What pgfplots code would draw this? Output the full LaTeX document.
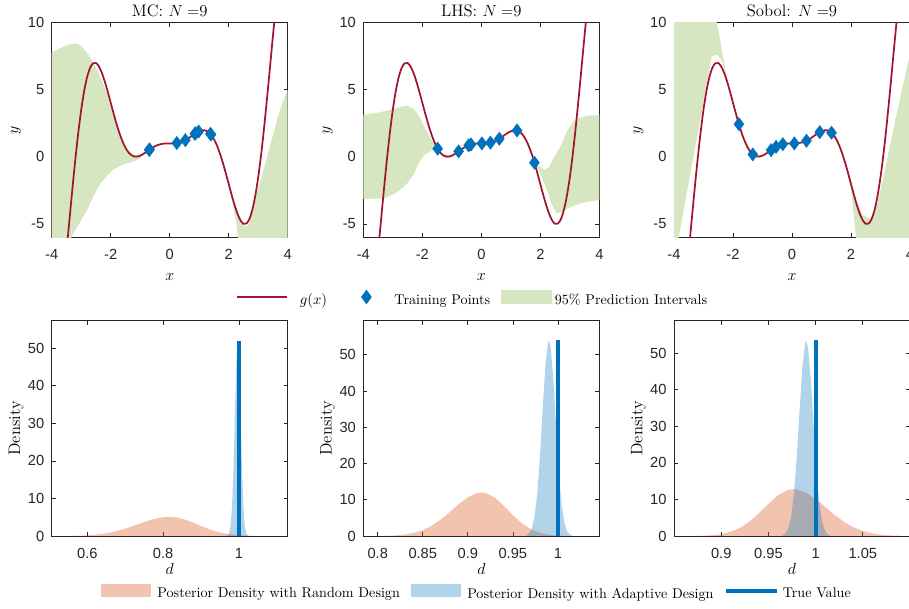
\documentclass[border=0pt]{standalone}
\usepackage{fontspec}
\newfontfamily\tickfont{Liberation Sans}
\usepackage{pgfplots}
\usepackage{pgfplotstable}
\pgfplotsset{compat=1.18}
\definecolor{gRed}{rgb}{0.635,0.078,0.184}
\definecolor{mBlue}{rgb}{0,0.447,0.741}
\definecolor{mOrange}{rgb}{0.85,0.325,0.098}
\definecolor{bandGreen}{rgb}{0.84,0.902,0.756}
\definecolor{axGray}{rgb}{0.15,0.15,0.15}

\pgfplotstableread{
x y
-3.6 -9.286
-3.5 -7.048
-3.4 -4.712
-3.3 -2.393
-3.2 -0.193
-3.1 1.798
-3.0 3.515
-2.9 4.907
-2.8 5.949
-2.7 6.633
-2.6 6.972
-2.5 6.993
-2.4 6.738
-2.3 6.257
-2.2 5.606
-2.1 4.844
-2.0 4.027
-1.9 3.209
-1.8 2.434
-1.7 1.739
-1.6 1.149
-1.5 0.682
-1.4 0.343
-1.3 0.129
-1.2 0.027
-1.1 0.022
-1.0 0.091
-0.9 0.211
-0.8 0.360
-0.7 0.517
-0.6 0.664
-0.5 0.790
-0.4 0.885
-0.3 0.949
-0.2 0.984
-0.1 0.998
0.0 1.000
0.1 1.002
0.2 1.016
0.3 1.051
0.4 1.115
0.5 1.210
0.6 1.336
0.7 1.483
0.8 1.640
0.9 1.789
1.0 1.909
1.1 1.978
1.2 1.973
1.3 1.871
1.4 1.657
1.5 1.318
1.6 0.851
1.7 0.261
1.8 -0.434
1.9 -1.209
2.0 -2.027
2.1 -2.844
2.2 -3.606
2.3 -4.257
2.4 -4.738
2.5 -4.993
2.6 -4.972
2.7 -4.633
2.8 -3.949
2.9 -2.907
3.0 -1.515
3.1 0.202
3.2 2.193
3.3 4.393
3.4 6.712
3.5 9.048
3.6 11.286
3.7 13.303
}\gtab

\pgfplotsset{
  common/.style={
    scale only axis, width=177pt, anchor=north west,
    axis line style={axGray, line width=0.5pt},
    tick style={axGray, line width=0.5pt},
    tick align=inside, major tick length=3pt,
    tick label style={font=\tickfont\fontsize{11}{13}\selectfont, text=axGray},
    /pgf/number format/assume math mode=true,
    xticklabel style={anchor=base, yshift=-16.5pt},
    yticklabel style={anchor=east, xshift=-2.1pt},
    label style={font=\fontsize{12.5}{14}\selectfont},
    ylabel style={at={(-0.151,0.5)}, anchor=center},
    title style={font=\fontsize{12.5}{14}\selectfont, at={(0.5,1)}, anchor=base, yshift=-1pt},
  },
  topstyle/.style={common, height=161pt,
    xmin=-4, xmax=4, ymin=-6, ymax=10,
    xtick={-4,-2,0,2,4}, ytick={-5,0,5,10},
    xlabel={$x$}, ylabel={$y$},
    xlabel style={at={(0.5,-0.199)}, anchor=base},
  },
  botstyle/.style={common, height=161.5pt,
    ymin=0, ytick={0,10,20,30,40,50},
    xlabel={$d$}, ylabel={Density},
    xlabel style={at={(0.5,-0.181)}, anchor=base},
  },
  legstyle/.style={legend style={draw=none, fill=none, inner sep=0pt, outer sep=0pt,
    legend columns=-1, font=\fontsize{10.6}{12}\selectfont,
    nodes={inner sep=0pt}, column sep=0pt,
    /tikz/every even column/.append style={column sep=8pt}},
    legend cell align=left},
  curve/.style={gRed, line width=1.3pt, smooth, forget plot},
  pts/.style={only marks, mark=diamond*, mark size=5pt, mBlue, mark options={fill=mBlue, draw=mBlue, line width=0.3pt}, forget plot},
  band/.style={fill=bandGreen, draw=none, forget plot},
  orf/.style={fill=mOrange, fill opacity=0.35, draw=none, forget plot},
  blf/.style={fill=mBlue, fill opacity=0.3, draw=none, forget plot},
  tv/.style={mBlue, line width=3pt, forget plot},
}

\begin{document}
\begin{tikzpicture}
% ---------------- top-left: MC
\begin{axis}[topstyle, at={(38.8pt,-17pt)}, title={MC: $N=$9}, legstyle,
  legend style={at={(0.7797,-0.2837)}, anchor=west}]
\addlegendimage{draw=gRed, line width=1.3pt, legend image code/.code={\path[draw=none, fill=none] (0pt,0pt) -- (47.5pt,0pt); \path[draw=gRed, line width=1.3pt, fill=none] (0pt,2.5pt) -- (38pt,2.5pt);}}
\addlegendentry{$g(x)$}
\addlegendimage{draw=none, fill=none, legend image code/.code={\path[draw=none, fill=none] (-21.5pt,0pt) -- (21pt,0pt); \path[fill=mBlue, draw=none] (0pt,8pt) -- (4pt,2.5pt) -- (0pt,-3pt) -- (-4pt,2.5pt) -- cycle;}}
\addlegendentry{Training Points}
\addlegendimage{draw=none, fill=none, legend image code/.code={\path[draw=none, fill=none] (0pt,0pt) -- (40.5pt,0pt); \path[fill=bandGreen, draw=none] (0pt,-2.5pt) rectangle (38pt,7.5pt);}}
\addlegendentry{95\% Prediction Intervals}
\addplot[band] coordinates {
(-4,7.76) (-3.8,8.0) (-3.6,8.2) (-3.4,8.38) (-3.2,8.45) (-3.05,8.35) (-2.9,8.0) (-2.75,7.6) (-2.6,7.05) (-2.45,6.45) (-2.3,5.7) (-2.15,4.85) (-2.0,3.75) (-1.85,2.7) (-1.7,1.65) (-1.55,0.9) (-1.4,0.4) (-1.25,0.15) (-1.1,0.08) (-0.95,0.17) (-0.8,0.37) (-0.7,0.53) (-0.5,0.8) (-0.2,0.99) (0.24,1.04) (0.53,1.26) (0.87,1.76) (0.98,1.9) (1.15,2.0) (1.4,1.67) (1.6,0.9) (1.8,-0.35) (2.0,-1.95) (2.2,-3.45) (2.4,-4.6) (2.55,-5.2) (2.67,-5.1) (2.8,-4.1) (2.95,-2.75) (3.1,-1.6) (3.3,0.0) (3.5,1.6) (3.64,2.75) (3.8,3.9) (4,5.0)
(4,-16) (2.8,-11) (2.45,-8) (2.32,-6.2) (2.25,-4.8) (2.15,-3.6) (2.0,-2.2) (1.8,-0.6) (1.6,0.75) (1.4,1.63) (1.15,1.97) (0.98,1.87) (0.87,1.73) (0.53,1.23) (0.24,1.01) (-0.2,0.97) (-0.5,0.77) (-0.7,0.5) (-0.8,0.3) (-1.0,-0.1) (-1.23,-0.36) (-1.5,-0.5) (-1.7,-0.7) (-1.91,-0.95) (-2.1,-1.35) (-2.36,-2.0) (-2.6,-3.0) (-2.81,-4.0) (-3.05,-4.9) (-3.26,-5.7) (-3.45,-6.5) (-4,-9)
} -- cycle;
\addplot[curve] table[x=x, y=y] {\gtab};
\addplot[pts] coordinates {(-0.70,0.517) (-0.68,0.548) (0.24,1.027) (0.53,1.245) (0.85,1.717) (0.88,1.761) (0.98,1.889) (1.38,1.710) (1.40,1.657)};
\end{axis}

% ---------------- top-middle: LHS
\begin{axis}[topstyle, at={(272.5pt,-17pt)}, title={LHS: $N=$9}]
\addplot[band] coordinates {
(-4,3.12) (-3.5,3.3) (-3.0,3.55) (-2.7,3.75) (-2.5,3.79) (-2.3,3.6) (-2.1,3.0) (-1.9,2.1) (-1.75,1.5) (-1.6,0.95) (-1.48,0.63) (-1.3,0.18) (-1.1,0.05) (-0.9,0.22) (-0.77,0.42) (-0.6,0.68) (-0.35,0.93) (0.02,1.01) (0.31,1.06) (0.61,1.35) (0.9,1.8) (1.21,1.97) (1.45,1.45) (1.65,0.5) (1.81,-0.42) (2.0,-0.75) (2.15,-0.98) (2.3,-0.75) (2.5,0.1) (2.71,0.9) (2.9,1.9) (3.16,2.75) (3.4,2.95) (3.61,3.07) (4,3.12)
(4,-3.22) (3.61,-3.34) (3.3,-3.5) (2.93,-3.84) (2.7,-4.15) (2.54,-4.2) (2.4,-3.6) (2.26,-2.72) (2.1,-1.8) (1.95,-1.0) (1.81,-0.44) (1.65,0.42) (1.45,1.38) (1.21,1.95) (0.9,1.74) (0.61,1.33) (0.31,1.04) (0.02,0.98) (-0.35,0.9) (-0.6,0.64) (-0.77,0.39) (-0.9,0.12) (-1.1,-0.12) (-1.3,-0.02) (-1.48,0.58) (-1.65,0.5) (-1.93,0.14) (-2.1,-0.4) (-2.27,-1.23) (-2.45,-1.8) (-2.6,-2.2) (-2.95,-2.77) (-3.29,-3.1) (-4,-3.14)
} -- cycle;
\addplot[curve] table[x=x, y=y] {\gtab};
\addplot[pts] coordinates {(-1.48,0.606) (-0.77,0.407) (-0.43,0.860) (-0.35,0.921) (0.02,1.000) (0.31,1.056) (0.61,1.349) (1.21,1.967) (1.80,-0.434)};
\end{axis}

% ---------------- top-right: Sobol
\begin{axis}[topstyle, at={(505.5pt,-17pt)}, title={Sobol: $N=$9}]
\addplot[band] coordinates {
(-4,30) (-3.0,16) (-2.7,11.5) (-2.55,10) (-2.45,8.9) (-2.35,7.6) (-2.25,6.4) (-2.15,5.3) (-2.0,4.0) (-1.8,2.45) (-1.6,1.2) (-1.33,0.22) (-1.0,0.12) (-0.71,0.52) (-0.54,0.76) (-0.31,0.96) (0.08,1.01) (0.49,1.21) (0.94,1.85) (1.15,2.0) (1.34,1.8) (1.6,0.95) (1.8,-0.3) (2.0,-1.85) (2.2,-3.35) (2.4,-4.35) (2.62,-4.6) (2.75,-4.45) (2.9,-3.4) (3.1,-1.5) (3.3,0.6) (3.5,2.7) (3.7,4.7) (3.93,7.0) (4,7.6)
(4,-30) (2.4,-10) (2.17,-6) (2.0,-2.3) (1.8,-0.55) (1.6,0.8) (1.34,1.77) (1.15,1.97) (0.94,1.83) (0.49,1.19) (0.08,0.99) (-0.31,0.93) (-0.54,0.73) (-0.71,0.48) (-1.0,0.06) (-1.33,0.16) (-1.6,1.13) (-1.8,2.42) (-2.0,3.95) (-2.15,5.25) (-2.25,6.2) (-2.35,6.95) (-2.45,7.4) (-2.55,7.6) (-2.65,7.55) (-2.72,7.47) (-3.0,4.1) (-3.28,0.7) (-3.5,-1.9) (-3.84,-6) (-4,-7.9)
} -- cycle;
\addplot[curve] table[x=x, y=y] {\gtab};
\addplot[pts] coordinates {(-1.80,2.434) (-1.33,0.180) (-0.71,0.502) (-0.54,0.743) (-0.31,0.944) (0.08,1.001) (0.49,1.199) (0.94,1.841) (1.34,1.798)};
\end{axis}

% ---------------- bottom-left
\begin{axis}[botstyle, at={(38.8pt,-240.5pt)}, xmin=0.506, xmax=1.129, ymax=57.3,
  xtick={0.6,0.8,1}, legstyle, legend style={at={(0.2076,-0.2605)}, anchor=west}]
\addlegendimage{draw=none, fill=none, legend image code/.code={\path[draw=none, fill=none] (0pt,0pt) -- (42.5pt,0pt); \path[fill=mOrange, fill opacity=0.35, draw=none] (0pt,-2.5pt) rectangle (38pt,7.5pt);}}
\addlegendentry{Posterior Density with Random Design}
\addlegendimage{draw=none, fill=none, legend image code/.code={\path[draw=none, fill=none] (0pt,0pt) -- (42.5pt,0pt); \path[fill=mBlue, fill opacity=0.3, draw=none] (0pt,-2.5pt) rectangle (38pt,7.5pt);}}
\addlegendentry{Posterior Density with Adaptive Design}
\addlegendimage{draw=mBlue, line width=3pt, legend image code/.code={\path[draw=none, fill=none] (0pt,0pt) -- (42.5pt,0pt); \path[draw=mBlue, line width=3pt, fill=none] (0pt,2.5pt) -- (38pt,2.5pt);}}
\addlegendentry{True Value}
\addplot[orf] coordinates {
(0.56,0.05) (0.58,0.10) (0.60,0.19) (0.62,0.34) (0.64,0.57) (0.66,0.91) (0.68,1.37) (0.70,1.95) (0.72,2.62) (0.74,3.35) (0.76,4.04) (0.78,4.62) (0.80,4.99) (0.818,5.10) (0.84,4.87) (0.86,4.30) (0.88,3.52) (0.90,2.67) (0.92,1.87) (0.94,1.21) (0.96,0.73) (0.98,0.41) (1.00,0.21) (1.02,0.10) (1.04,0.04)
} \closedcycle;
\addplot[blf] coordinates {
(0.970,0.11) (0.974,0.60) (0.978,2.48) (0.982,7.80) (0.986,18.75) (0.990,34.4) (0.994,48.2) (0.997,52) (1.000,48.2) (1.004,34.4) (1.008,18.75) (1.012,7.80) (1.016,2.48) (1.020,0.60) (1.024,0.11)
} \closedcycle;
\addplot[tv] coordinates {(1,0) (1,52)};
\end{axis}

% ---------------- bottom-middle
\begin{axis}[botstyle, at={(272.5pt,-240.5pt)}, xmin=0.784, xmax=1.046, ymax=59.4,
  xtick={0.8,0.85,0.9,0.95,1}]
\addplot[orf] coordinates {
(0.80,0.025) (0.81,0.07) (0.82,0.17) (0.83,0.40) (0.84,0.85) (0.85,1.62) (0.86,2.84) (0.87,4.54) (0.88,6.62) (0.89,8.80) (0.90,10.67) (0.91,11.80) (0.916,12.0) (0.92,11.88) (0.93,10.59) (0.94,8.31) (0.95,5.74) (0.96,3.49) (0.97,1.87) (0.98,0.88) (0.99,0.37) (1.00,0.13) (1.01,0.04)
} \closedcycle;
\addplot[blf] coordinates {
(0.965,0.18) (0.968,0.65) (0.971,2.0) (0.974,5.2) (0.977,11.5) (0.980,21.7) (0.983,34.5) (0.986,46.7) (0.989,53.5) (0.990,54) (0.992,52.1) (0.995,43.0) (0.998,30.1) (1.001,17.9) (1.004,9.0) (1.007,3.86) (1.010,1.40) (1.013,0.43) (1.016,0.11)
} \closedcycle;
\addplot[tv] coordinates {(1,0) (1,54)};
\end{axis}

% ---------------- bottom-right
\begin{axis}[botstyle, at={(505.5pt,-240.5pt)}, xmin=0.85, xmax=1.1, ymax=58.9,
  xtick={0.9,0.95,1,1.05}]
\addplot[orf] coordinates {
(0.87,0.025) (0.88,0.08) (0.89,0.21) (0.90,0.52) (0.91,1.14) (0.92,2.24) (0.93,3.95) (0.94,6.23) (0.95,8.79) (0.96,11.10) (0.97,12.54) (0.976,12.8) (0.98,12.72) (0.99,11.82) (1.00,10.12) (1.01,7.99) (1.02,5.81) (1.03,3.89) (1.04,2.41) (1.05,1.37) (1.06,0.72) (1.07,0.35) (1.08,0.15) (1.09,0.06)
} \closedcycle;
\addplot[blf] coordinates {
(0.965,0.18) (0.968,0.64) (0.971,1.98) (0.974,5.15) (0.977,11.4) (0.980,21.5) (0.983,34.2) (0.986,46.3) (0.989,53.0) (0.990,53.5) (0.992,51.6) (0.995,42.6) (0.998,29.8) (1.001,17.7) (1.004,8.9) (1.007,3.8) (1.010,1.39) (1.013,0.43) (1.016,0.11)
} \closedcycle;
\addplot[tv] coordinates {(1,0) (1,53.5)};
\end{axis}

\pgfresetboundingbox
\useasboundingbox (0pt,0pt) rectangle (681.75pt,-456pt);
\end{tikzpicture}
\end{document}
